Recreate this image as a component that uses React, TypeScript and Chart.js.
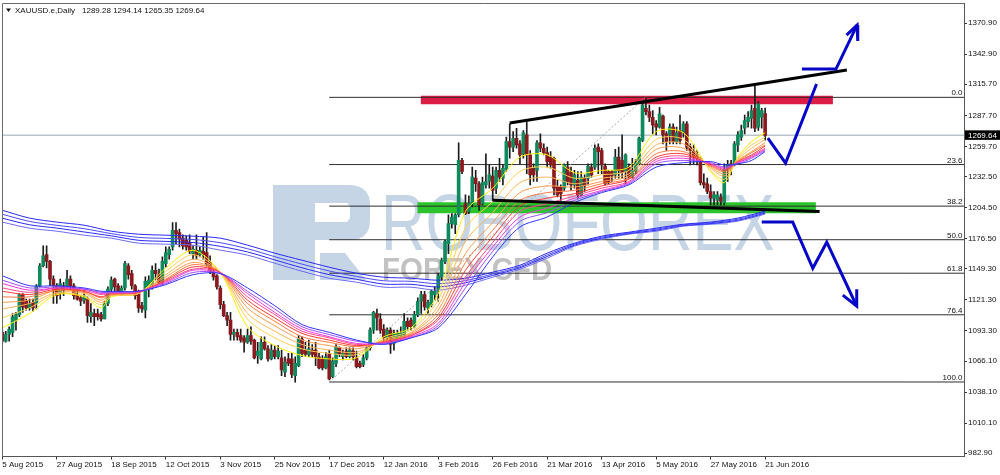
import React, { useEffect, useRef } from "react";
import { Chart, registerables } from "chart.js";

Chart.register(...registerables);

const FONT = '"Liberation Sans", Arial, sans-serif';

const dateLabels = ["5 Aug 2015","27 Aug 2015","18 Sep 2015","12 Oct 2015","3 Nov 2015","25 Nov 2015","17 Dec 2015","12 Jan 2016","3 Feb 2016","26 Feb 2016","21 Mar 2016","13 Apr 2016","5 May 2016","27 May 2016","21 Jun 2016"];
const dateTickBars = [0,16,32,48,64,80,96,112,128,144,160,176,192,208,224];
const priceTicks = [1370.9,1342.9,1315.7,1287.7,1259.7,1232.5,1204.5,1176.5,1149.3,1121.3,1093.3,1066.1,1038.1,1010.1,982.9];

const opens = [
1092,1084,1090,1092,1103,1108,1126,1120,1114,1119,
1118,1134,1152,1162,1156,1140,1134,1127,1134,1134,
1140,1134,1126,1123,1121,1122,1106,1109,1109,1108,
1104,1118,1131,1140,1134,1128,1132,1152,1145,1134,
1127,1116,1112,1131,1135,1148,1144,1138,1154,1162,
1169,1184,1182,1177,1175,1173,1163,1166,1162,1165,
1164,1155,1146,1143,1132,1117,1107,1103,1090,1092,
1089,1087,1083,1089,1085,1071,1068,1083,1077,1068,
1076,1070,1069,1056,1068,1068,1053,1062,1086,1076,
1072,1076,1076,1070,1068,1060,1073,1052,1064,1078,
1070,1075,1070,1075,1069,1064,1063,1069,1078,1094,
1109,1104,1095,1087,1094,1082,1085,1087,1088,1102,
1103,1097,1108,1120,1126,1114,1117,1126,1129,1142,
1156,1172,1190,1189,1198,1247,1208,1201,1208,1231,
1226,1208,1225,1228,1233,1222,1238,1231,1239,1264,
1259,1267,1262,1253,1270,1252,1240,1238,1263,1258,
1254,1250,1249,1223,1223,1222,1241,1236,1225,1229,
1216,1231,1231,1241,1241,1259,1256,1242,1237,1237,
1234,1250,1247,1237,1241,1232,1237,1244,1265,1294,
1291,1286,1280,1277,1287,1271,1270,1277,1264,1274,
1272,1280,1259,1255,1252,1249,1227,1226,1219,1213,
1211,1214,1209,1239,1244,1243,1261,1268,1276,1282,
1285,1294,1277,1286,1289.28];

const closes = [
1084,1090,1095,1106,1108,1126,1115,1114,1118,1114,
1134,1152,1161,1156,1140,1134,1125,1136,1130,1140,
1134,1125,1122,1120,1125,1107,1110,1106,1106,1104,
1118,1131,1139,1133,1129,1132,1154,1144,1134,1125,
1114,1113,1138,1139,1148,1145,1137,1156,1164,1167,
1184,1181,1176,1170,1169,1165,1167,1161,1166,1162,
1154,1147,1142,1133,1117,1107,1103,1090,1092,1088,
1085,1083,1089,1084,1069,1075,1083,1077,1068,1076,
1070,1075,1058,1065,1064,1054,1064,1086,1073,1072,
1077,1072,1070,1060,1060,1070,1050,1066,1079,1072,
1073,1070,1076,1070,1061,1061,1069,1078,1094,1110,
1105,1094,1087,1094,1081,1091,1091,1091,1102,1097,
1097,1108,1120,1126,1115,1119,1129,1129,1143,1157,
1174,1190,1196,1198,1247,1237,1199,1208,1232,1226,
1207,1227,1228,1234,1220,1238,1232,1240,1264,1259,
1267,1261,1252,1272,1252,1234,1234,1263,1258,1254,
1246,1243,1222,1216,1217,1243,1228,1225,1234,1216,
1232,1224,1242,1234,1258,1255,1243,1226,1227,1233,
1250,1238,1236,1252,1232,1238,1245,1267,1297,1291,
1286,1279,1277,1289,1270,1264,1277,1264,1272,1265,
1280,1259,1256,1250,1249,1227,1225,1219,1213,1216,
1216,1210,1239,1243,1241,1262,1270,1274,1283,1286,
1292,1276,1298,1292,1269.64];

const highs = [
1094,1093,1097,1109,1110,1127,1127,1122,1122,1122,
1135,1154,1170,1170,1157,1143,1136,1140,1137,1148,
1143,1136,1131,1125,1130,1124,1118,1113,1113,1110,
1120,1133,1142,1141,1136,1134,1156,1154,1148,1135,
1130,1119,1142,1143,1152,1154,1149,1160,1169,1169,
1191,1191,1185,1180,1179,1180,1170,1180,1169,1178,
1182,1161,1150,1144,1134,1120,1110,1110,1095,1095,
1095,1089,1095,1097,1086,1083,1088,1088,1080,1081,
1080,1080,1076,1070,1073,1073,1070,1089,1088,1083,
1085,1081,1083,1073,1071,1074,1076,1069,1081,1079,
1076,1078,1078,1078,1075,1066,1072,1079,1096,1111,
1113,1109,1099,1096,1096,1094,1094,1097,1109,1105,
1105,1111,1123,1129,1129,1121,1130,1133,1145,1159,
1175,1198,1199,1199,1263,1249,1216,1215,1241,1238,
1228,1232,1253,1243,1241,1241,1249,1243,1268,1280,
1273,1276,1265,1274,1283,1256,1244,1265,1271,1262,
1259,1255,1250,1229,1225,1244,1246,1241,1238,1237,
1237,1234,1244,1244,1261,1262,1258,1244,1238,1238,
1257,1259,1270,1253,1244,1249,1248,1268,1301,1303,
1297,1292,1283,1295,1288,1273,1280,1280,1277,1288,
1282,1282,1262,1261,1256,1250,1235,1231,1225,1219,
1219,1217,1244,1247,1247,1264,1273,1279,1288,1291,
1297,1315,1300,1294,1294.14];

const lows = [
1082,1083,1084,1088,1094,1106,1110,1112,1112,1111,
1113,1133,1151,1150,1134,1118,1118,1122,1125,1131,
1130,1122,1121,1116,1118,1101,1101,1098,1103,1102,
1104,1116,1128,1128,1127,1125,1130,1140,1131,1122,
1110,1110,1105,1124,1131,1139,1136,1135,1151,1158,
1166,1172,1169,1167,1166,1163,1158,1158,1160,1158,
1152,1145,1139,1131,1113,1106,1098,1085,1085,1085,
1083,1074,1082,1081,1068,1064,1067,1076,1066,1067,
1068,1068,1053,1052,1062,1051,1047,1061,1070,1070,
1070,1070,1062,1059,1058,1059,1049,1051,1061,1070,
1067,1069,1069,1067,1060,1060,1061,1067,1076,1091,
1094,1091,1082,1082,1073,1076,1084,1085,1087,1094,
1094,1096,1106,1109,1112,1109,1115,1121,1120,1139,
1154,1163,1186,1181,1196,1235,1198,1199,1205,1219,
1202,1207,1222,1222,1211,1217,1228,1225,1237,1249,
1255,1258,1244,1249,1235,1225,1228,1228,1255,1252,
1241,1240,1216,1214,1211,1220,1225,1220,1222,1213,
1215,1219,1225,1232,1239,1235,1235,1225,1226,1228,
1231,1231,1231,1226,1231,1231,1235,1243,1264,1288,
1282,1271,1270,1276,1262,1256,1262,1262,1262,1262,
1268,1256,1243,1244,1243,1225,1222,1217,1207,1207,
1207,1207,1207,1228,1234,1242,1255,1265,1271,1277,
1276,1273,1274,1276,1265.35];

const ribbonBars = [0,8,16,24,29,32,40,48,56,64,72,80,88,96,104,112,120,128,136,144,152,160,168,176,184,192,200,208,212,216,220,224];
const ribbonYellow = [1096,1109,1126,1124,1114,1124,1127,1150,1166,1146,1097,1080,1071,1068,1069,1088,1096,1127,1201,1222,1250,1252,1236,1238,1241,1273,1272,1237,1227,1250,1264,1272];
const ribbonGold = [1105,1114,1127,1125,1117,1125,1127,1147,1162,1146,1104,1087,1077,1073,1072,1086,1094,1121,1186,1210,1237,1241,1231,1234,1238,1266,1266,1238,1230,1249,1261,1268];
const ribbonAmber = [1113,1118,1128,1127,1119,1125,1127,1144,1158,1146,1109,1093,1081,1076,1074,1085,1092,1116,1174,1200,1227,1232,1226,1231,1235,1261,1262,1240,1233,1248,1258,1266];
const ribbonOrange = [1119,1121,1130,1128,1121,1126,1128,1142,1155,1146,1114,1098,1085,1080,1077,1084,1091,1112,1163,1191,1218,1224,1223,1228,1233,1257,1258,1241,1235,1247,1255,1263];
const ribbonCoral = [1124,1124,1130,1129,1123,1126,1128,1140,1153,1146,1118,1102,1088,1083,1079,1084,1090,1108,1155,1184,1211,1218,1220,1226,1231,1253,1255,1242,1237,1246,1254,1261];
const ribbonRed = [1129,1126,1131,1129,1124,1127,1128,1139,1151,1146,1121,1105,1091,1085,1080,1083,1089,1105,1148,1178,1206,1213,1217,1224,1230,1250,1253,1243,1238,1246,1252,1260];
const ribbonRose = [1132,1128,1132,1130,1126,1127,1128,1138,1149,1146,1124,1108,1093,1087,1081,1083,1089,1103,1142,1173,1201,1208,1215,1222,1228,1248,1251,1244,1239,1245,1251,1258];
const ribbonMagenta = [1136,1130,1132,1131,1127,1128,1129,1137,1148,1145,1127,1110,1095,1088,1082,1082,1088,1100,1137,1169,1196,1204,1213,1220,1227,1246,1249,1244,1240,1245,1250,1257];
const ribbonViolet = [1139,1132,1133,1131,1128,1128,1129,1136,1146,1145,1129,1113,1097,1090,1084,1082,1087,1098,1132,1165,1192,1200,1211,1219,1226,1244,1247,1245,1241,1244,1249,1256];
const ribbonBlue = [1143,1134,1134,1132,1129,1129,1129,1135,1144,1145,1132,1116,1099,1092,1085,1081,1087,1096,1126,1160,1187,1196,1209,1218,1225,1241,1245,1246,1243,1244,1247,1255];

const slowBars = [0,8,16,24,32,40,48,56,64,72,80,88,96,104,112,120,128,136,144,152,160,168,176,184,192,200,208,216,224];
const slowA = [1202,1195,1191.4,1188.6,1183.2,1180.5,1179.6,1178.7,1176.9,1170.6,1163.4,1157,1150.7,1145.3,1141.7,1140.8,1139,1140.8,1146.2,1152.5,1163.4,1172.4,1178.7,1182.3,1185.9,1189.5,1191.4,1195,1201.3];
const slowB = [1198.5,1192,1188.5,1185.5,1181,1177.6,1176.7,1175.7,1172.8,1167.4,1160.2,1153.5,1147.3,1142.4,1138.5,1138,1135.9,1138.6,1144.6,1151.2,1161.8,1171.5,1177.8,1181.7,1185,1188.9,1190.8,1194,1200.4];
const slowC = [1194.9,1189,1186,1182.5,1179,1175,1174,1173,1169.5,1164.5,1157.3,1150.2,1144,1139.8,1135.5,1135.3,1132.9,1136.7,1143.3,1150.2,1160.4,1170.6,1176.9,1181.1,1184.1,1188.3,1190.1,1193.1,1199.5];
const slowD = [1191.4,1185.9,1183.2,1179.6,1176.9,1172.4,1171.5,1170.6,1166.1,1161.6,1154.3,1147.1,1140.8,1137.2,1132.7,1132.7,1130,1134.5,1141.7,1148.9,1158.9,1169.7,1176,1180.5,1183.2,1187.7,1189.5,1192.3,1198.6];

const fibLevels = [1303.9,1243.3,1205.8,1175.5,1145.3,1107.8,1047.2];
const fibNames = ["0.0","23.6","38.2","50.0","61.8","76.4","100.0"];
const fibBars = [96,283];
const fibDiagonalBars = [96,188.8];
const fibDiagonalPrices = [1047.2,1303.9];

const lastPrice = 1269.64;
const headerName = "XAUUSD.e,Daily";
const headerValues = "1289.28 1294.14 1265.35 1269.64";

const redZoneBars = [122.9,243.9];
const redZonePrice = 1301.6;
const greenZoneBars = [121.9,238.9];
const greenZonePrice = 1204.4;

const upperTrendBars = [149,248];
const upperTrendPrices = [1280.7,1328.5];
const lowerTrendBars = [144,240];
const lowerTrendPrices = [1211.2,1201];

const bounceBars = [224.8,230,239.1];
const bouncePrices = [1267.2,1244.6,1315.9];
const breakoutBars = [234.8,244.8,251];
const breakoutPrices = [1329.4,1329.4,1369.1];
const breakoutHeadBars = [247.9,251,251.2];
const breakoutHeadPrices = [1360.1,1369.1,1354.7];
const dropBars = [223,232.1,238,242.1,250.9];
const dropPrices = [1191.4,1191.4,1149.8,1173.3,1115.5];
const dropHeadBars = [246.8,250.9,250.9];
const dropHeadPrices = [1125.5,1115.5,1130.9];

const BULL = "#0f8a5c";
const BEAR = "#8a1a1e";
const WICK = "#1c1c1c";
const ARROW = "#0606c8";
const TEXT = "#111";

const pts = (xs: number[], ys: number[]) => xs.map((x, i) => ({ x, y: ys[i] }));

const line = (label: string, xs: number[], ys: number[], color: string, width: number, extra: any = {}) => ({
  type: "line",
  label,
  data: pts(xs, ys),
  borderColor: color,
  borderWidth: width,
  pointRadius: 0,
  fill: false,
  tension: 0,
  ...extra,
});

const watermark = {
  id: "watermark",
  beforeDatasetsDraw(chart: any) {
    const c = chart.ctx;
    c.save();
    c.fillStyle = "#c5d5e6";
    c.beginPath();
    c.moveTo(273, 185);
    c.lineTo(350, 185);
    c.quadraticCurveTo(370, 186, 370, 205);
    c.lineTo(370, 220);
    c.quadraticCurveTo(370, 240, 350, 240);
    c.lineTo(315, 240);
    c.lineTo(315, 280);
    c.lineTo(273, 280);
    c.closePath();
    c.moveTo(315, 203);
    c.lineTo(315, 222);
    c.lineTo(347, 222);
    c.lineTo(350, 218);
    c.lineTo(350, 206);
    c.lineTo(347, 203);
    c.closePath();
    c.fill("evenodd");
    c.beginPath();
    c.moveTo(320, 253);
    c.lineTo(345, 253);
    c.lineTo(366, 280);
    c.lineTo(320, 280);
    c.closePath();
    c.fill();
    c.save();
    c.translate(381, 250);
    c.scale(0.77, 1);
    c.font = `80px ${FONT}`;
    c.textBaseline = "alphabetic";
    c.fillText("ROBOFOREX", 0, 0);
    c.restore();
    c.save();
    c.translate(382, 280);
    c.scale(0.95, 1);
    c.fillStyle = "#c2c2c2";
    c.font = `bold 31px ${FONT}`;
    c.fillText("FOREX CFD", 0, 0);
    c.restore();
    c.restore();
  },
};

const overlay = {
  id: "overlay",
  afterDraw(chart: any) {
    const c = chart.ctx;
    const { left, right, top, bottom } = chart.chartArea;
    const y = chart.scales.y;
    c.save();
    c.strokeStyle = "#6a6a6a";
    c.lineWidth = 1;
    c.beginPath();
    c.moveTo(left + 0.5, bottom);
    c.lineTo(left + 0.5, top + 0.5);
    c.lineTo(right, top + 0.5);
    c.stroke();

    c.font = `8px ${FONT}`;
    c.fillStyle = TEXT;
    c.textBaseline = "alphabetic";
    c.textAlign = "right";
    fibLevels.forEach((lv, i) => c.fillText(fibNames[i], right - 1.5, y.getPixelForValue(lv) - 2));

    c.textAlign = "left";
    c.beginPath();
    c.moveTo(6, 8.5);
    c.lineTo(11, 8.5);
    c.lineTo(8.5, 12);
    c.closePath();
    c.fill();
    c.fillText(headerName, 15, 13);
    c.fillText(headerValues, 82, 13);

    const py = y.getPixelForValue(lastPrice);
    c.fillStyle = "#000";
    c.fillRect(right + 1, py - 5, 36, 9.5);
    c.fillStyle = "#fff";
    c.fillText(lastPrice.toFixed(2), right + 4, py + 3);
    c.restore();
  },
};

export default function App() {
  const ref = useRef<HTMLCanvasElement | null>(null);
  useEffect(() => {
    if (!ref.current) return;
    const bars = opens.map((_, i) => i);
    const datasets: any[] = [
      line("Drop head", dropHeadBars, dropHeadPrices, ARROW, 3),
      line("Drop", dropBars, dropPrices, ARROW, 3),
      line("Breakout head", breakoutHeadBars, breakoutHeadPrices, ARROW, 3),
      line("Breakout", breakoutBars, breakoutPrices, ARROW, 3),
      line("Bounce", bounceBars, bouncePrices, ARROW, 3),
      line("Upper trend", upperTrendBars, upperTrendPrices, "#000", 3),
      line("Lower trend", lowerTrendBars, lowerTrendPrices, "#000", 3),
      line("R10", ribbonBars, ribbonBlue, "#3434ff", 1, { tension: 0.3 }),
      line("R9", ribbonBars, ribbonViolet, "#a050f5", 1, { tension: 0.3 }),
      line("R8", ribbonBars, ribbonMagenta, "#f03cd8", 1, { tension: 0.3 }),
      line("R7", ribbonBars, ribbonRose, "#ff4a8c", 1, { tension: 0.3 }),
      line("R6", ribbonBars, ribbonRed, "#ff3a34", 1, { tension: 0.3 }),
      line("R5", ribbonBars, ribbonCoral, "#ff7a40", 1, { tension: 0.3 }),
      line("R4", ribbonBars, ribbonOrange, "#ff9a48", 1, { tension: 0.3 }),
      line("R3", ribbonBars, ribbonAmber, "#ffb454", 1, { tension: 0.3 }),
      line("R2", ribbonBars, ribbonGold, "#ffcf50", 1, { tension: 0.3 }),
      line("R1", ribbonBars, ribbonYellow, "#fff000", 1, { tension: 0.3 }),
      line("S1", slowBars, slowA, "#2a2af5", 1, { tension: 0.3 }),
      line("S2", slowBars, slowB, "#4a4af5", 1, { tension: 0.3 }),
      line("S3", slowBars, slowC, "#2a2af5", 1, { tension: 0.3 }),
      line("S4", slowBars, slowD, "#6a6af5", 1, { tension: 0.3 }),
      {
        type: "bar",
        label: "Bodies",
        data: bars.map((i) => ({ x: i, y: [opens[i], closes[i]] })),
        backgroundColor: bars.map((i) => (closes[i] >= opens[i] ? BULL : BEAR)),
        barThickness: 3,
        grouped: false,
        borderWidth: 0,
      },
      {
        type: "bar",
        label: "Wicks",
        data: bars.map((i) => ({ x: i, y: [lows[i], highs[i]] })),
        backgroundColor: WICK,
        barThickness: 1,
        grouped: false,
        borderWidth: 0,
      },
      line("Fib diagonal", fibDiagonalBars, fibDiagonalPrices, "#a8a8a8", 1, { borderDash: [2, 2] }),
      ...fibLevels.map((lv, i) => line(`Fib ${fibNames[i]}`, fibBars, [lv, lv], "#2e2e2e", 1)),
      line("Red zone", redZoneBars, [redZonePrice, redZonePrice], "#dc1e44", 8.5, { borderCapStyle: "butt" }),
      line("Green zone", greenZoneBars, [greenZonePrice, greenZonePrice], "#2cc42c", 11, { borderCapStyle: "butt" }),
      line("Last price", [-1, 283], [lastPrice, lastPrice], "#b9c4cc", 1.5),
    ];
    const chart = new Chart(ref.current, {
      type: "line",
      data: { datasets },
      plugins: [watermark, overlay],
      options: {
        responsive: false,
        animation: false,
        events: [],
        layout: { padding: { left: 2, top: 3, right: 0, bottom: 0 } },
        plugins: { legend: { display: false }, tooltip: { enabled: false }, title: { display: false } },
        scales: {
          x: {
            type: "linear",
            offset: false,
            min: -0.1,
            max: 282.4,
            grid: { offset: false, drawOnChartArea: false, drawTicks: true, tickLength: 3, color: "#333" },
            border: { color: "#555", width: 1 },
            afterBuildTicks: (s: any) => {
              s.ticks = dateTickBars.map((value) => ({ value }));
            },
            afterFit: (s: any) => {
              s.height = 18.5;
              s.paddingLeft = 0;
              s.paddingRight = 0;
            },
            ticks: {
              autoSkip: false,
              maxRotation: 0,
              align: "start",
              padding: 0,
              color: TEXT,
              font: { family: FONT, size: 8 },
              callback: (v: any) => dateLabels[dateTickBars.indexOf(Number(v))] ?? "",
            },
          },
          y: {
            position: "right",
            type: "linear",
            min: 980,
            max: 1389,
            grid: { drawOnChartArea: false, drawTicks: true, tickLength: 3, color: "#333" },
            border: { color: "#555", width: 1 },
            afterBuildTicks: (s: any) => {
              s.ticks = priceTicks.map((value) => ({ value }));
            },
            afterFit: (s: any) => {
              s.width = 36;
              s.paddingTop = 0;
              s.paddingBottom = 0;
            },
            ticks: {
              autoSkip: false,
              padding: 1,
              color: TEXT,
              font: { family: FONT, size: 8 },
              callback: (v: any) => Number(v).toFixed(2),
            },
          },
        },
      },
    } as any);
    return () => chart.destroy();
  }, []);
  return (
    <div style={{ position: "fixed", left: 0, top: 0, width: 1000, height: 475, background: "#fff" }}>
      <canvas ref={ref} width={1000} height={475} style={{ display: "block", width: 1000, height: 475 }} />
    </div>
  );
}
